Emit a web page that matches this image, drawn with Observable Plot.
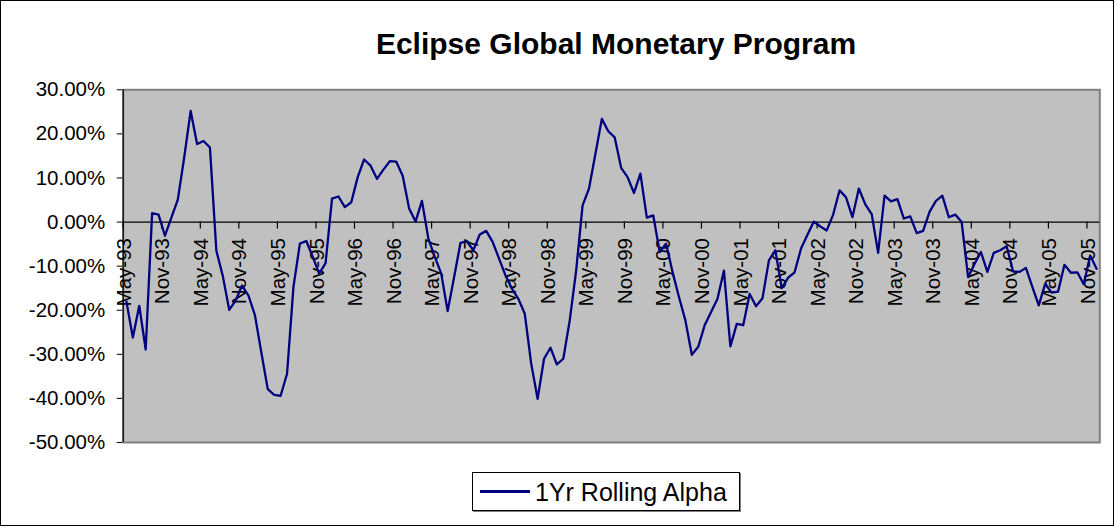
<!DOCTYPE html>
<html>
<head>
<meta charset="utf-8">
<script src="https://cdn.jsdelivr.net/npm/d3@7"></script>
<script src="https://cdn.jsdelivr.net/npm/@observablehq/plot@0.6"></script>
<style>
  html, body { margin: 0; padding: 0; background: white; }
  #frame { position: absolute; left: 0; top: 0; width: 1114px; height: 526px; border: 1px solid black; box-sizing: border-box; }
  #title { position: absolute; top: 28.6px; left: 616px; transform: translateX(-50%); white-space: nowrap;
           font-family: "Liberation Sans", Arial, sans-serif; font-weight: bold; font-size: 30px; line-height: 30px; color: black; }
  #chart { position: absolute; left: 0; top: 70px; }
  #legend { position: absolute; left: 472px; top: 472px; width: 268px; height: 39px; border: 1px solid black;
            box-sizing: border-box; background: white; box-shadow: 1px 1px 0 #808080; }
  #legend .swatch { position: absolute; left: 7px; top: 16.5px; width: 50px; height: 0; border-top: 3px solid #000080; }
  #legend .label { position: absolute; left: 62px; top: 6.8px; font-family: "Liberation Sans", Arial, sans-serif;
                   font-size: 25px; line-height: 25px; color: black; white-space: nowrap; }
</style>
</head>
<body>
<div id="frame"></div>
<div id="title"></div>
<div id="chart"></div>
<div id="legend"><div class="swatch"></div><div class="label"></div></div>
<script>
const chartTitle = "Eclipse Global Monetary Program";
const seriesName = "1Yr Rolling Alpha";

// x-axis category labels, one every 6 months starting May-93
const tickLabels = ["May-93","Nov-93","May-94","Nov-94","May-95","Nov-95","May-96","Nov-96",
  "May-97","Nov-97","May-98","Nov-98","May-99","Nov-99","May-00","Nov-00","May-01","Nov-01",
  "May-02","Nov-02","May-03","Nov-03","May-04","Nov-04","May-05","Nov-05"];
const monthsPerLabel = 6;
const monthCount = 152; // May-93 .. Dec-05

// y-axis ticks (percent)
const yTicks = [30, 20, 10, 0, -10, -20, -30, -40, -50];

// 1Yr rolling alpha, monthly, in percent (May-93 .. Dec-05)
const alpha = [
  -18.0, -26.2, -19.0, -28.9, 2.0, 1.7, -3.1, 1.0, 5.1, 14.7, 25.2, 17.7,
  18.4, 16.9, -6.5, -12.2, -19.9, -17.8, -14.4, -16.7, -21.1, -29.6, -37.9, -39.2,
  -39.4, -34.4, -14.7, -4.9, -4.3, -7.9, -11.7, -9.3, 5.3, 5.8, 3.4, 4.5,
  10.2, 14.2, 12.8, 9.8, 11.9, 13.8, 13.7, 10.5, 3.1, 0.1, 4.8, -3.8,
  -7.9, -11.7, -20.2, -12.5, -4.7, -4.4, -6.4, -2.8, -2.0, -4.5, -8.3, -12.1,
  -15.1, -17.4, -20.8, -32.1, -40.1, -31.0, -28.5, -32.3, -31.0, -22.3, -11.0, 3.8,
  7.6, 15.5, 23.4, 20.6, 19.2, 12.3, 10.2, 6.6, 11.0, 1.0, 1.5, -6.8,
  -4.9, -11.3, -17.0, -22.3, -30.1, -28.3, -23.4, -20.4, -17.4, -11.0, -28.2, -23.1,
  -23.4, -16.3, -19.1, -17.3, -8.7, -6.4, -15.0, -12.6, -11.4, -6.0, -2.9, 0.1,
  -1.0, -1.9, 1.7, 7.2, 5.6, 1.1, 7.6, 4.0, 1.8, -7.0, 6.0, 4.7,
  5.2, 0.8, 1.3, -2.5, -2.0, 2.3, 4.8, 6.0, 1.1, 1.7, 0.0, -12.5,
  -9.5, -6.8, -11.3, -7.0, -6.4, -5.5, -11.2, -11.3, -10.4, -14.7, -18.9, -14.0,
  -16.0, -15.8, -9.7, -11.5, -11.4, -14.1, -7.6, -10.6
];

document.getElementById("title").textContent = chartTitle;
document.querySelector("#legend .label").textContent = seriesName;

const font = "'Liberation Sans', Arial, sans-serif";
const chart = Plot.plot({
  width: 1115,
  height: 390,
  marginTop: 19.3,
  marginBottom: 18,
  marginLeft: 122.7,
  marginRight: 15.7,
  style: { fontFamily: font, fontSize: "20.5px", background: "transparent", color: "black" },
  x: { domain: [0, monthCount], axis: null },
  y: {
    domain: [-50, 30],
    ticks: yTicks,
    tickFormat: d => d.toFixed(2) + "%",
    tickSize: 6,
    tickPadding: 12,
    label: null
  },
  marks: [
    Plot.frame({ fill: "#C0C0C0", stroke: "#808080", strokeWidth: 2 }),
    Plot.ruleX([0], { stroke: "black", strokeWidth: 1.2 }),
    Plot.ruleY([0], { stroke: "black", strokeWidth: 1.2 }),
    Plot.ruleX(tickLabels, { x: (d, i) => i * monthsPerLabel, y1: 0, y2: -1.6, stroke: "black", strokeWidth: 1.2 }),
    Plot.text(tickLabels, {
      x: (d, i) => i * monthsPerLabel, y: 0, text: d => d,
      rotate: -90, textAnchor: "end", dy: 16, dx: 1,
      fontSize: 20.5, fill: "black", fontFamily: font
    }),
    Plot.line(alpha, { x: (d, i) => i + 0.5, y: d => d, stroke: "#000080", strokeWidth: 2.3 })
  ]
});
document.getElementById("chart").appendChild(chart);
</script>
</body>
</html>
